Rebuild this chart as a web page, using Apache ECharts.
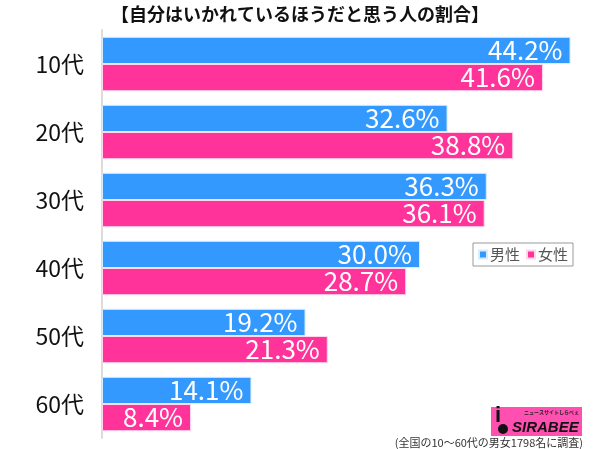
<!DOCTYPE html>
<html><head><meta charset="utf-8">
<script src="https://cdn.jsdelivr.net/npm/echarts@6/dist/echarts.min.js"></script>
<style>html,body{margin:0;padding:0;background:#fff}#c{width:600px;height:449px}</style>
</head><body><div id="c"></div>
<script>
const categories = ['10代','20代','30代','40代','50代','60代'];
const male = [44.2, 32.6, 36.3, 30.0, 19.2, 14.1];
const female = [41.6, 38.8, 36.1, 28.7, 21.3, 8.4];
const seriesNames = ['男性','女性'];
const titleText = '【自分はいかれているほうだと思う人の割合】';
const noteText = '(全国の10～60代の男女1798名に調査)';

const FONT = '"Noto Sans CJK JP","Noto Sans",sans-serif';
const chart = echarts.init(document.getElementById('c'));
const lbl = {
  show: true, position: 'insideRight', distance: 8, color: '#fff',
  fontSize: 26, fontFamily: FONT,
  formatter: p => p.value.toFixed(1) + '%'
};
chart.setOption({
  animation: false,
  title: { text: titleText, left: 'center', top: 0,
    textStyle: { fontSize: 18, fontWeight: 'bold', color: '#111', fontFamily: FONT } },
  legend: {
    data: seriesNames, left: 473, top: 243, icon: 'rect', itemWidth: 8, itemHeight: 8,
    itemGap: 6, borderColor: '#999', borderWidth: 1, padding: [4, 5, 4, 5],
    textStyle: { fontSize: 15, color: '#555', fontFamily: FONT, padding: [0, 0, 0, -2] }
  },
  grid: { left: 102, right: 21, top: 30, bottom: 11 },
  xAxis: { type: 'value', min: 0, max: 45, show: false },
  yAxis: {
    type: 'category', data: categories, inverse: true,
    axisLine: { lineStyle: { color: '#dcdcdc', width: 2 } },
    axisTick: { show: false },
    axisLabel: { fontSize: 23, color: '#111', margin: 18, fontFamily: FONT }
  },
  series: [
    { name: seriesNames[0], type: 'bar', data: male, barGap: '0%', barCategoryGap: '20%',
      itemStyle: { color: '#3399ff', borderColor: '#d6ecff', borderWidth: 1 }, label: lbl },
    { name: seriesNames[1], type: 'bar', data: female,
      itemStyle: { color: '#ff3399', borderColor: '#ffd6ea', borderWidth: 1 }, label: lbl }
  ],
  graphic: [
    { type: 'rect', left: 491, top: 407, shape: { width: 91, height: 29 }, style: { fill: '#ff4fb0' } },
    { type: 'text', left: 524, top: 410, style: { text: 'ニュースサイトしらべぇ', fontSize: 5, fontWeight: 'bold', fill: '#222', fontFamily: FONT } },
    { type: 'text', left: 512, top: 420, style: { text: 'SIRABEE', fontSize: 15, fontWeight: 'bold', fontStyle: 'italic', fill: '#111', fontFamily: '"Liberation Sans"' } },
    { type: 'text', left: 495, top: 405, style: { text: 'i', fontSize: 22, fontWeight: 'bold', fill: '#111', fontFamily: '"Liberation Sans"' } },
    { type: 'circle', shape: { cx: 503, cy: 429, r: 5 }, style: { fill: '#111' } },
    { type: 'text', right: 17, top: 437, style: { text: noteText, fontSize: 11, fill: '#333', fontFamily: FONT } }
  ]
});
</script></body></html>
